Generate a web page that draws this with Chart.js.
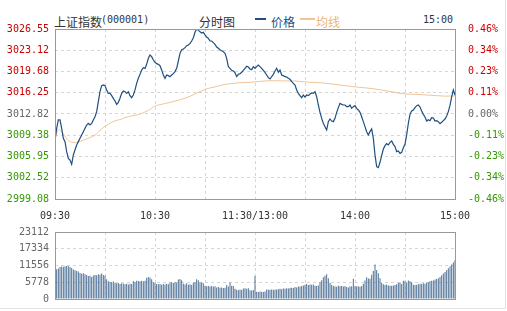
<!DOCTYPE html>
<html>
<head>
<meta charset="utf-8">
<script src="https://cdn.jsdelivr.net/npm/chart.js@4.4.1/dist/chart.umd.min.js"></script>
<style>
  body { margin: 0; background: #fff; }
  #wrap { position: relative; width: 507px; height: 311px; overflow: hidden; }
  #wrap canvas { position: absolute; left: 0; }
  .t { position: absolute; white-space: nowrap; line-height: 12px; }
  .cjk { font: 12px "Noto Sans CJK SC", sans-serif; }
  .mono { font: 10px "DejaVu Sans Mono", monospace; }
  .bar { position: absolute; height: 2px; }
  #box { position: absolute; left: 0; top: 0; width: 505px; height: 308px; border-right: 1px solid #e2e2e2; border-bottom: 1px solid #e2e2e2; }
</style>
</head>
<body>
<div id="wrap">
  <div id="box"></div>
  <div class="t cjk" style="left:54px;top:13px;color:#333">上证指数</div>
  <div class="t mono" style="left:101px;top:14px;color:#333">(000001)</div>
  <div class="t cjk" style="left:199px;top:13px;color:#333">分时图</div>
  <div class="bar" style="left:255px;top:18px;width:11px;background:#1f4e80"></div>
  <div class="t cjk" style="left:271px;top:13px;color:#1f4e80">价格</div>
  <div class="bar" style="left:300px;top:18px;width:15px;background:#f0c496"></div>
  <div class="t cjk" style="left:316px;top:13px;color:#ebb47c">均线</div>
  <div class="t mono" style="left:423px;top:14px;color:#333">15:00</div>
  <canvas id="priceChart" width="507" height="225" style="top:0"></canvas>
  <canvas id="volChart" width="507" height="91" style="top:220px"></canvas>
</div>
<script>
// 分时价格 (每分钟, 09:30 -> 15:00, 241 点)
const price = [
  3008.61, 3010.50, 3011.85, 3011.85, 3010.50, 3008.88, 3008.35, 3006.73, 3005.65, 3005.38,
  3004.68, 3006.19, 3007.00, 3007.81, 3008.35, 3008.88, 3009.42, 3009.96, 3010.50, 3011.04,
  3011.31, 3011.04, 3011.31, 3011.85, 3012.38, 3013.19, 3014.81, 3016.42, 3017.40, 3017.50,
  3017.40, 3016.70, 3016.15, 3016.15, 3015.78, 3015.35, 3014.91, 3014.38, 3014.70, 3015.35,
  3016.15, 3016.53, 3016.42, 3016.15, 3016.42, 3015.78, 3015.45, 3015.88, 3016.70, 3017.77,
  3018.58, 3019.22, 3019.92, 3020.30, 3020.19, 3020.84, 3021.81, 3022.35, 3022.08, 3021.54,
  3021.17,
  3020.95, 3020.84, 3020.62, 3019.92, 3019.12, 3018.58, 3019.12, 3019.01, 3018.85, 3019.12,
  3019.33, 3019.66, 3020.20, 3021.38, 3022.62, 3023.21, 3023.32, 3023.53, 3023.86, 3023.96,
  3024.23, 3024.61, 3025.15, 3026.01, 3026.55, 3026.33, 3026.12, 3025.90, 3026.01, 3025.58,
  3025.26, 3025.04, 3024.61, 3024.61, 3024.34, 3024.07, 3023.64, 3023.43, 3023.21, 3023.05,
  3022.89, 3022.62, 3021.81, 3020.46, 3020.20, 3019.87, 3019.76, 3019.49, 3018.85, 3019.22,
  3019.33, 3019.55, 3019.87, 3020.20, 3020.52, 3020.41, 3020.09, 3019.98, 3020.46, 3020.20,
  3020.46, 3020.73, 3020.46, 3020.20, 3019.87, 3019.55, 3019.12, 3018.69, 3018.47, 3018.85,
  3019.22, 3019.76, 3020.20, 3019.55, 3019.92, 3019.12, 3019.01, 3018.85, 3018.80, 3018.58,
  3018.42, 3018.04, 3017.77, 3017.50, 3016.70, 3016.15, 3015.78, 3015.45, 3015.88, 3015.56,
  3015.88, 3015.78, 3016.05, 3016.21, 3016.15, 3016.42, 3015.61, 3014.27, 3013.08, 3012.11,
  3011.31, 3010.77, 3010.23, 3011.58, 3012.01, 3011.68, 3011.58, 3012.11, 3013.08, 3013.84,
  3014.54, 3014.37, 3014.27, 3014.27, 3014.00, 3014.00, 3014.27, 3013.73, 3014.00, 3014.16,
  3013.73, 3013.46, 3013.08, 3012.38, 3011.58, 3010.77, 3009.96, 3009.42, 3009.96, 3010.39,
  3008.88, 3006.19, 3004.30, 3004.14, 3005.01, 3006.08, 3007.16, 3007.70, 3008.02, 3007.81,
  3008.24, 3008.45, 3007.91, 3007.54, 3006.73, 3006.84, 3006.46, 3006.62, 3007.37, 3007.91,
  3009.42, 3011.31, 3012.76, 3013.30, 3013.46, 3013.84, 3014.16, 3014.27, 3013.95, 3013.30,
  3012.76, 3012.33, 3011.68, 3011.90, 3011.74, 3012.22, 3012.17, 3011.68, 3011.74, 3011.58,
  3011.25, 3011.47, 3011.74, 3012.00, 3012.50, 3013.20, 3014.20, 3015.60, 3016.70, 3015.88
];

// 均线 (读取的分钟位置和数值)
const avgMinutes = [0, 2, 5, 8, 12, 16, 20, 24, 28, 32, 36, 40, 44, 48, 52, 56, 60, 66, 72, 78, 84, 90, 96, 102,
  108, 114, 120, 126, 132, 138, 144, 150, 156, 162, 168, 174, 180, 186, 192, 198, 204, 210, 216, 222, 228, 234, 240];
const avgValues = [3008.6, 3010.3, 3009.6, 3008.5, 3008.2, 3008.5, 3008.9, 3009.4, 3010.4, 3011.2, 3011.7, 3012.0,
  3012.4, 3012.6, 3012.9, 3013.4, 3014.1, 3014.5, 3014.9, 3015.35, 3016.05, 3016.8, 3017.2, 3017.6, 3017.8, 3017.9,
  3018.0, 3018.15, 3018.2, 3018.15, 3018.15, 3018.0, 3017.9, 3017.8, 3017.6, 3017.4, 3017.2, 3017.05, 3016.85,
  3016.6, 3016.3, 3016.05, 3016.0, 3015.9, 3015.8, 3015.7, 3015.75];

// 成交量 (每分钟)
const volume = [
  10100, 10300, 10500, 11000, 11200, 11100, 11300, 11400, 11300, 11000,
  10700, 10200, 9900, 9700, 9500, 9000, 8700, 8900, 8500, 8300,
  7900, 8000, 7600, 8100, 8300, 8200, 8500, 8400, 8800, 8300,
  8000, 6800, 6100, 5900, 5800, 6000, 5500, 5400, 5500, 5200,
  5400, 5300, 5100, 5300, 5000, 5300, 5200, 6200, 5800, 6300,
  6200, 6000, 6300, 6100, 6300, 7300, 7600, 7400, 6800, 5800,
  5600, 5200, 5100, 5200, 4900, 5200, 5000, 5300, 5100, 5600,
  5800, 5500, 5900, 5600, 6700, 6900, 6500, 5300, 5000, 5400,
  4900, 5100, 4800, 5600, 5800, 6800, 6500, 5600, 5800, 5400,
  4600, 4400, 4500, 4300, 4500, 4300, 4400, 4000, 4100, 3900,
  4000, 3800, 3900, 4800, 4300, 5700, 4600, 4500, 3500, 3200,
  3000, 3300, 3100, 3600, 3700, 3500, 3700, 3000, 2900, 3100,
  7900,
  2500, 2400, 2600, 2500, 2400, 2600, 3300, 3200, 3200, 3300,
  3200, 3200, 3300, 3400, 3500, 3400, 3600, 3500, 3700, 3600,
  3800, 3900, 3800, 4100, 4000, 4300, 4200, 4500, 4700, 4900,
  5200, 4800, 5000, 4900, 5000, 4600, 4500, 4700, 5800, 6500,
  7500, 8000, 8500, 7200, 5600, 4900, 4500, 4300, 4200, 4600,
  4400, 4500, 4300, 4500, 4100, 4000, 4300, 4400, 7000, 4500,
  4300, 4400, 4200, 4500, 5300, 6400, 7500, 7100, 7000, 8400,
  9700, 11900, 10000, 8900, 7200, 5500, 5100, 4800, 5000, 4700,
  4600, 4600, 4700, 4800, 5100, 5500, 5700, 5200, 6300, 6100,
  5700, 6400, 6100, 5800, 4900, 4800, 4900, 5100, 5300, 5200,
  5400, 5300, 5700, 5800, 6100, 6300, 6400, 6700, 6900, 7200,
  7600, 8200, 8800, 9300, 10000, 10600, 11300, 11900, 12600, 13400
];

const priceTicks = [2999.08, 3002.52, 3005.95, 3009.38, 3012.82, 3016.25, 3019.68, 3023.12, 3026.55];
const pctLabels = ['-0.46%', '-0.34%', '-0.23%', '-0.11%', '0.00%', '0.11%', '0.23%', '0.34%', '0.46%'];
const volTicks = [0, 5778, 11556, 17334, 23112];
const timeLabels = { 0: '09:30', 60: '10:30', 120: '11:30/13:00', 180: '14:00', 240: '15:00' };

const monoFont = { family: 'DejaVu Sans Mono', size: 10 };
const gridColor = '#d6d6d6';
const upColor = '#cc0000', flatColor = '#666666', downColor = '#339900';

function sideColor(i) {
  if (i > 4) return upColor;
  if (i < 4) return downColor;
  return flatColor;
}

// 外框
const frame = {
  id: 'frame',
  afterDatasetsDraw(chart) {
    const { ctx, chartArea: a } = chart;
    ctx.save();
    ctx.strokeStyle = '#999';
    ctx.lineWidth = 1;
    ctx.strokeRect(Math.round(a.left) + 0.5, Math.round(a.top) + 0.5,
      Math.round(a.right - a.left), Math.round(a.bottom - a.top));
    ctx.restore();
  }
};

const xGrid = { color: gridColor, drawTicks: false };
const dashBorder = { display: false, dash: [3, 3] };

new Chart(document.getElementById('priceChart'), {
  type: 'line',
  data: {
    datasets: [
      {
        data: price.map((v, i) => ({ x: i, y: v })),
        borderColor: '#1f4e80',
        borderWidth: 1.2,
        pointRadius: 0,
        tension: 0
      },
      {
        data: avgMinutes.map((m, i) => ({ x: m, y: avgValues[i] })),
        borderColor: '#f0c496',
        borderWidth: 1,
        pointRadius: 0,
        tension: 0.3
      }
    ]
  },
  options: {
    responsive: false,
    animation: false,
    layout: { padding: { top: 29, left: 0, right: 0, bottom: 0 } },
    plugins: { legend: { display: false }, tooltip: { enabled: false } },
    scales: {
      x: {
        type: 'linear', min: 0, max: 240,
        grid: xGrid, border: dashBorder,
        ticks: {
          stepSize: 30, autoSkip: false, maxRotation: 0, padding: 11,
          font: monoFont, color: '#333',
          callback: v => timeLabels[v] || ''
        },
        afterFit: s => { s.height = 26; }
      },
      y: {
        min: 2999.08, max: 3026.55,
        grid: { color: gridColor, drawTicks: false }, border: dashBorder,
        afterBuildTicks: s => { s.ticks = priceTicks.map(v => ({ value: v })); },
        ticks: {
          padding: 6, font: monoFont,
          color: c => sideColor(c.index),
          callback: v => v.toFixed(2)
        },
        afterFit: s => { s.width = 55; }
      },
      y1: {
        position: 'right',
        min: 2999.08, max: 3026.55,
        grid: { display: false, drawTicks: false }, border: { display: false },
        afterBuildTicks: s => { s.ticks = priceTicks.map(v => ({ value: v })); },
        ticks: {
          padding: 13, font: monoFont,
          color: c => sideColor(c.index),
          callback: (v, i) => pctLabels[i]
        },
        afterFit: s => { s.width = 52; }
      }
    }
  },
  plugins: [frame]
});

new Chart(document.getElementById('volChart'), {
  type: 'bar',
  data: {
    datasets: [{
      data: volume.map((v, i) => ({ x: i, y: v })),
      backgroundColor: '#4f7396',
      barThickness: 1,
      inflateAmount: 0
    }]
  },
  options: {
    responsive: false,
    animation: false,
    layout: { padding: { top: 9, right: 52, left: 0, bottom: 0 } },
    plugins: { legend: { display: false }, tooltip: { enabled: false } },
    scales: {
      x: {
        type: 'linear', min: 0, max: 240, offset: false,
        grid: { color: gridColor, drawTicks: false, offset: false }, border: dashBorder,
        ticks: { stepSize: 30, autoSkip: false, display: false },
        afterFit: s => { s.height = 12; }
      },
      y: {
        min: 0, max: 23112,
        grid: { color: gridColor, drawTicks: false }, border: dashBorder,
        afterBuildTicks: s => { s.ticks = volTicks.map(v => ({ value: v })); },
        ticks: { padding: 6, font: monoFont, color: '#666', callback: v => String(v) },
        afterFit: s => { s.width = 55; }
      }
    }
  },
  plugins: [frame]
});
</script>
</body>
</html>
